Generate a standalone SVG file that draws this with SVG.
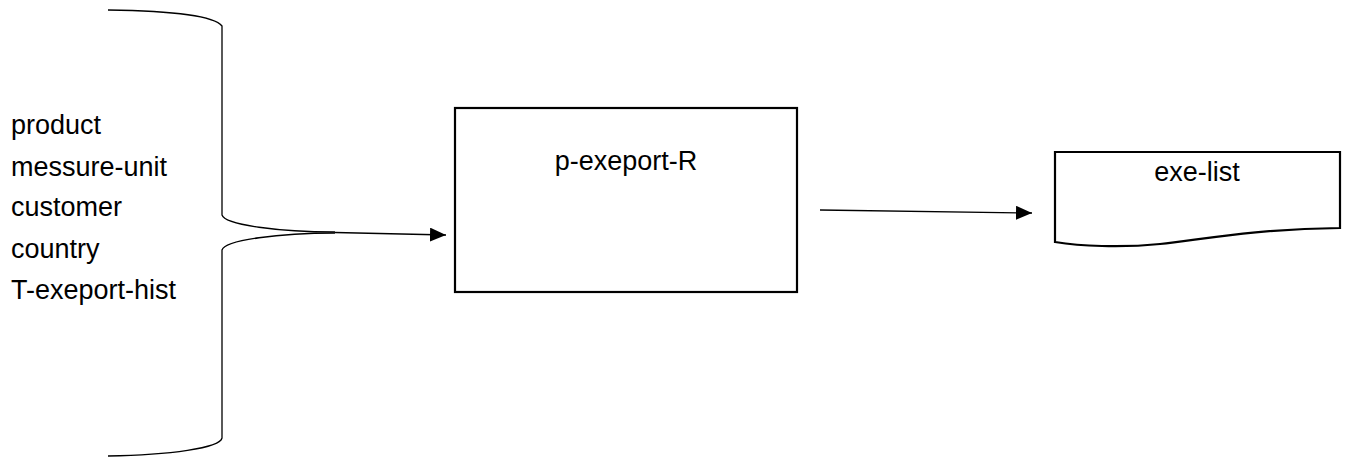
<svg xmlns="http://www.w3.org/2000/svg" width="1349" height="459" viewBox="0 0 1349 459">
<defs>
<style>
.t{font-family:"Liberation Sans",Arial,sans-serif;font-size:27px;fill:#000}
.ln{fill:none;stroke:#000;stroke-width:1.3}
.bx{fill:#fff;stroke:#000;stroke-width:2.2}
</style>
<marker id="ah" markerWidth="16" markerHeight="14" refX="16" refY="7" orient="auto" markerUnits="userSpaceOnUse">
<path d="M0,0 L16,7 L0,14 Z" fill="#000"/>
</marker>
</defs>
<rect width="1349" height="459" fill="#fff"/>
<g id="inputs">
<path class="ln" d="M108,10 C180,11 215,17 222,26 L222,215 C225,225 280,232 335,232"/>
<path class="ln" d="M335,233 C280,233 225,240 222,250 L222,438 C220,448 170,455 108,456"/>
<text class="t" x="11" y="134">product</text>
<text class="t" x="11" y="176">messure-unit</text>
<text class="t" x="11" y="216">customer</text>
<text class="t" x="11" y="258">country</text>
<text class="t" x="11" y="299">T-exeport-hist</text>
</g>
<g id="process">
<rect class="bx" x="455" y="108" width="342" height="184"/>
<text class="t" x="626" y="170" text-anchor="middle">p-exeport-R</text>
</g>
<g id="output">
<path class="bx" d="M1055,152 H1340 V228 C1250,229 1200,240 1160,244 C1120,248 1080,246 1055,242 Z"/>
<text class="t" x="1197" y="181" text-anchor="middle">exe-list</text>
</g>
<g id="connectors">
<line class="ln" x1="335" y1="232.5" x2="446" y2="235" marker-end="url(#ah)"/>
<line class="ln" x1="820" y1="210" x2="1032" y2="213" marker-end="url(#ah)"/>
</g>
</svg>
